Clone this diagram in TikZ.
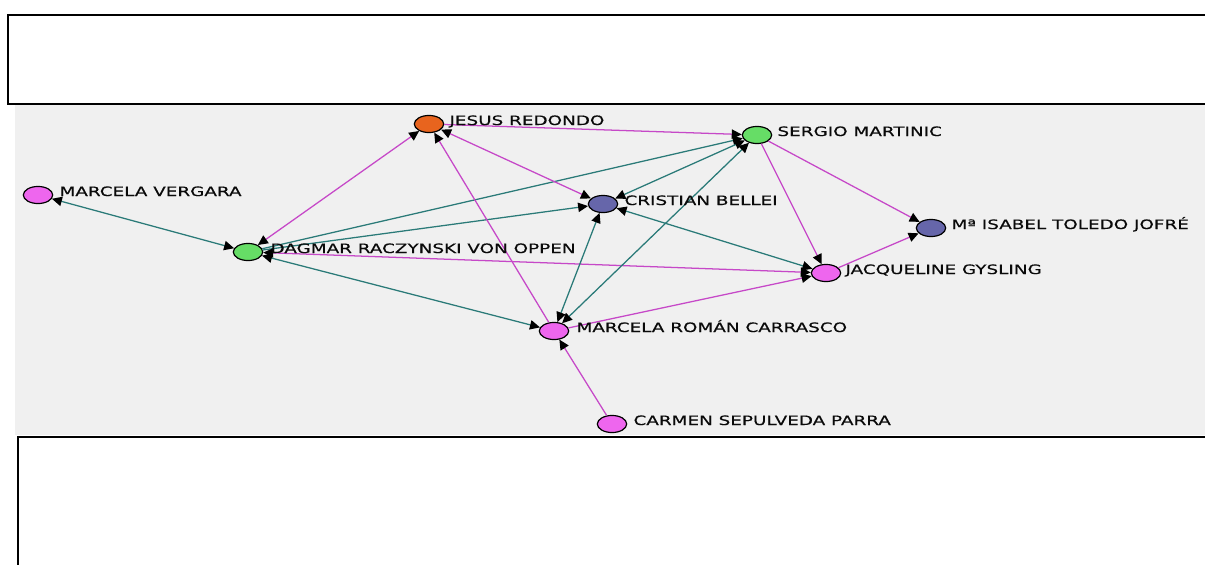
\documentclass[tikz,border=0pt]{standalone}
\usepackage{fontspec}
\usetikzlibrary{shapes.geometric,arrows.meta}
\newfontfamily\lblfont[FakeStretch=1.42,FakeBold=0.4]{DejaVu Sans}
\definecolor{pinkNode}{RGB}{238,102,238}
\definecolor{greenNode}{RGB}{102,221,102}
\definecolor{orangeNode}{RGB}{232,100,30}
\definecolor{blueNode}{RGB}{102,102,170}
\definecolor{pinkTie}{RGB}{198,72,200}
\definecolor{tealTie}{RGB}{42,122,120}
\definecolor{paneGray}{RGB}{240,240,240}

\tikzset{every picture/.style={line width=0.75pt}}

\begin{document}
\begin{tikzpicture}[x=0.75pt,y=0.75pt,yscale=-1,xscale=1,
  actor/.style={ellipse,draw=black,line width=0.9pt,minimum width=22pt,minimum height=12.8pt,inner sep=0pt},
  tie/.style={line width=0.95pt,>={Triangle[length=7.5pt,width=7pt,color=black]}},
  lbl/.style={anchor=base west,inner sep=0pt,text={rgb,255:red,10;green,10;blue,10},font=\lblfont\fontsize{9.7}{10}\selectfont}]
\useasboundingbox (0,0) rectangle (1205,564);

%Shape: Rectangle
\fill [paneGray] (15,104) rectangle (1205,435) ;
%Shape: Rectangle
\draw [line width=1.2pt,fill=white] (8,15) rectangle (1215,104) ;
%Shape: Rectangle
\draw [line width=2.2pt,fill=white] (18,437) rectangle (1215,575) ;

%Shape: Ellipse
\draw (38,195) node (vergara) [actor,fill=pinkNode] {};
%Shape: Ellipse
\draw (248,252) node (dagmar) [actor,fill=greenNode] {};
%Shape: Ellipse
\draw (429,124) node (jesus) [actor,fill=orangeNode] {};
%Shape: Ellipse
\draw (757,135) node (sergio) [actor,fill=greenNode] {};
%Shape: Ellipse
\draw (603,204) node (cristian) [actor,fill=blueNode] {};
%Shape: Ellipse
\draw (931,228) node (isabel) [actor,fill=blueNode] {};
%Shape: Ellipse
\draw (826,273) node (jacqueline) [actor,fill=pinkNode] {};
%Shape: Ellipse
\draw (554,331) node (roman) [actor,fill=pinkNode] {};
%Shape: Ellipse
\draw (612,424) node (carmen) [actor,fill=pinkNode] {};

%Straight Lines
\draw [tie,tealTie,<->] (vergara) -- (dagmar) ;
%Straight Lines
\draw [tie,pinkTie,<->] (dagmar) -- (jesus) ;
%Straight Lines
\draw [tie,tealTie,->] (dagmar) -- (sergio) ;
%Straight Lines
\draw [tie,tealTie,->] (dagmar) -- (cristian) ;
%Straight Lines
\draw [tie,tealTie,<->] (dagmar) -- (roman) ;
%Straight Lines
\draw [tie,pinkTie,<->] (dagmar) -- (jacqueline) ;
%Straight Lines
\draw [tie,pinkTie,->] (jesus) -- (sergio) ;
%Straight Lines
\draw [tie,pinkTie,<->] (jesus) -- (cristian) ;
%Straight Lines
\draw [tie,pinkTie,->] (roman) -- (jesus) ;
%Straight Lines
\draw [tie,tealTie,<->] (sergio) -- (cristian) ;
%Straight Lines
\draw [tie,tealTie,<->] (roman) -- (sergio) ;
%Straight Lines
\draw [tie,tealTie,<->] (roman) -- (cristian) ;
%Straight Lines
\draw [tie,tealTie,<->] (jacqueline) -- (cristian) ;
%Straight Lines
\draw [tie,pinkTie,->] (sergio) -- (jacqueline) ;
%Straight Lines
\draw [tie,pinkTie,->] (sergio) -- (isabel) ;
%Straight Lines
\draw [tie,pinkTie,->] (jacqueline) -- (isabel) ;
%Straight Lines
\draw [tie,pinkTie,->] (roman) -- (jacqueline) ;
%Straight Lines
\draw [tie,pinkTie,->] (carmen) -- (roman) ;

% Text Node
\draw (59,196) node (vergaraTxt) [lbl] {MARCELA VERGARA};
% Text Node
\draw (270,253) node (dagmarTxt) [lbl] {DAGMAR RACZYNSKI VON OPPEN};
% Text Node
\draw (449,125) node (jesusTxt) [lbl] {JESUS REDONDO};
% Text Node
\draw (777,136) node (sergioTxt) [lbl] {SERGIO MARTINIC};
% Text Node
\draw (624,205) node (cristianTxt) [lbl] {CRISTIAN BELLEI};
% Text Node
\draw (951,229) node (isabelTxt) [lbl] {Mª ISABEL TOLEDO JOFRÉ};
% Text Node
\draw (845,274) node (jacquelineTxt) [lbl] {JACQUELINE GYSLING};
% Text Node
\draw (576,332) node (romanTxt) [lbl] {MARCELA ROMÁN CARRASCO};
% Text Node
\draw (633,425) node (carmenTxt) [lbl] {CARMEN SEPULVEDA PARRA};

\end{tikzpicture}
\end{document}
